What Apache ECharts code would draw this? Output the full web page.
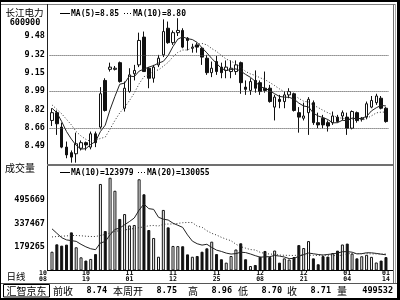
<!DOCTYPE html>
<html><head><meta charset="utf-8">
<script src="https://cdn.jsdelivr.net/npm/echarts@6/dist/echarts.min.js"></script>
<style>html,body{margin:0;padding:0;background:#fff}#c{width:400px;height:300px}</style>
</head><body><div id="c"></div>
<script>
// ---------- data ----------
const stockName = '长江电力';
const stockCode = '600900';
const dates = ['10/08','10/11','10/12','10/13','10/14','10/15','10/18','10/19','10/20','10/21','10/22','10/25','10/26','10/27','10/28','10/29',
  '11/01','11/02','11/03','11/04','11/05','11/08','11/09','11/10','11/11','11/12','11/15','11/16','11/17','11/18','11/19','11/22','11/23','11/24','11/25','11/26','11/29','11/30',
  '12/01','12/02','12/03','12/06','12/07','12/08','12/09','12/10','12/13','12/14','12/15','12/16','12/17','12/20','12/21','12/22','12/23','12/24','12/27','12/28','12/29','12/30','12/31',
  '01/04','01/05','01/06','01/07','01/10','01/11','01/12','01/13','01/14'];
const shownDates = ['10/08','10/19','11/01','11/12','11/25','12/08','12/21','01/04','01/14'];
const opens = [8.72,8.79,8.66,8.48,8.43,8.42,8.47,8.52,8.48,8.60, 8.66,9.08,9.18,9.18,9.24,8.83,8.98,9.14,9.22,9.47, 9.19,9.10,9.22,9.31,9.55,9.42,9.51,9.53,9.46,9.37, 9.40,9.37,9.28,9.15,9.25,9.20,9.17,9.16,9.16,9.24, 9.02,8.99,9.08,9.06,9.01,9.01,8.84,8.91,8.89,8.95, 8.96,8.79,8.74,8.79,8.88,8.70,8.74,8.70,8.70,8.75, 8.76,8.75,8.65,8.79,8.73,8.75,8.84,8.88,8.92,8.83];
const closes = [8.79,8.69,8.48,8.41,8.39,8.51,8.52,8.50,8.60,8.52, 8.96,8.81,9.20,9.19,9.07,9.01,9.13,9.17,9.44,9.16, 9.10,9.20,9.28,9.52,9.42,9.51,9.53,9.38,9.44,9.38, 9.38,9.29,9.15,9.19,9.16,9.15,9.20,9.19,9.22,9.06, 9.00,9.07,9.01,8.98,8.99,8.89,8.93,8.89,8.95,8.98, 8.81,8.75,8.76,8.91,8.70,8.68,8.68,8.67,8.76,8.71, 8.79,8.65,8.80,8.72,8.74,8.87,8.90,8.94,8.83,8.71];
const lows = [8.67,8.59,8.47,8.38,8.34,8.34,8.45,8.45,8.46,8.48, 8.64,8.80,9.16,9.17,9.06,8.80,8.97,9.08,9.20,9.16, 9.01,9.06,9.20,9.29,9.41,9.40,9.48,9.37,9.35,9.33, 9.33,9.22,9.13,9.11,9.13,9.10,9.10,9.10,9.13,8.96, 8.95,8.95,8.97,8.95,8.97,8.88,8.72,8.83,8.83,8.92, 8.80,8.61,8.72,8.59,8.68,8.65,8.65,8.62,8.68,8.70, 8.72,8.59,8.64,8.70,8.71,8.73,8.83,8.86,8.82,8.70];
const highs = [8.83,8.81,8.70,8.53,8.45,8.61,8.54,8.53,8.62,8.62, 9.02,9.10,9.24,9.21,9.25,9.07,9.19,9.22,9.51,9.52, 9.20,9.22,9.31,9.63,9.61,9.53,9.64,9.55,9.47,9.41, 9.42,9.38,9.31,9.25,9.30,9.24,9.26,9.26,9.26,9.25, 9.08,9.10,9.17,9.08,9.16,9.04,8.95,8.95,8.98,9.01, 8.97,8.84,8.88,8.93,8.90,8.79,8.77,8.72,8.80,8.77, 8.81,8.79,8.81,8.80,8.75,8.89,8.94,8.96,8.94,8.84];
const ma5 = [8.83,8.79,8.71,8.62,8.552,8.496,8.462,8.466,8.504,8.530, 8.620,8.678,8.818,8.936,9.046,9.056,9.120,9.114,9.164,9.182, 9.200,9.214,9.236,9.252,9.304,9.386,9.452,9.472,9.456,9.448, 9.422,9.374,9.328,9.278,9.234,9.188,9.170,9.178,9.184,9.164, 9.134,9.108,9.072,9.024,9.010,8.988,8.960,8.936,8.930,8.928, 8.912,8.876,8.850,8.842,8.786,8.760,8.746,8.728,8.698,8.700, 8.722,8.716,8.742,8.734,8.740,8.756,8.806,8.834,8.856,8.850];
const ma10 = [8.86,8.82,8.78,8.73,8.68,8.62,8.58,8.55,8.53,8.541, 8.558,8.570,8.642,8.720,8.788,8.838,8.899,8.966,9.050,9.114, 9.128,9.167,9.175,9.208,9.243,9.293,9.333,9.354,9.354,9.376, 9.404,9.413,9.400,9.367,9.341,9.305,9.272,9.253,9.231,9.199, 9.161,9.139,9.125,9.104,9.087,9.061,9.034,9.004,8.977,8.969, 8.950,8.918,8.893,8.886,8.857,8.836,8.811,8.789,8.770,8.743, 8.741,8.731,8.735,8.716,8.720,8.739,8.761,8.788,8.795,8.795];
const volumes = [145000,195000,186000,193000,276000,175000,107000,85000,96000,129000, 604000,285000,646000,558000,367000,400000,323000,326000,636000,534000, 292000,238000,111000,428000,310000,184000,183000,182000,127000,111000, 116000,145000,168000,213000,129000,94000,71000,116000,160000,202000, 94000,48000,55000,111000,150000,109000,153000,71000,100000,92000, 109000,190000,170000,217000,100000,60000,115000,112000,136000,152310, 194000,200000,132000,100000,114258,124000,110000,72000,85000,108532];
const volMa10 = [300000,270000,240000,225000,220000,215000,195000,178000,165000,158700, 204600,213600,259600,296100,305200,327700,349300,373400,427400,467900, 436700,432000,378500,365500,359800,338200,324200,309800,258900,216600, 199000,189700,195400,173900,155800,146800,135600,129000,132300,141400, 139200,129500,118200,108000,110100,111600,119800,115300,109300,98300, 99800,114000,125500,136100,131100,126200,122400,126500,130100,136131, 144631,145631,141831,130131,131557,137957,137457,133457,128357,123979];
const volMa20 = [245000,248000,250000,252000,255000,255000,253000,250000,248000,248000, 255000,262000,272000,282000,288000,292000,298000,302000,308000,313300, 320650,322800,319050,330800,332500,332950,336750,341600,343150,342250, 317850,310850,286950,269700,257800,242500,229900,219400,195600,179000, 169100,159600,156800,140950,132950,129200,127700,122150,120800,119850, 119500,121750,121850,122050,120600,118900,121100,120900,119700,117200, 122200,129800,133700,133100,131300,132100,129900,130000,129200,130055];
const yTickValues = [8.49, 8.655, 8.82, 8.985, 9.15, 9.315, 9.48];
const yTickLabels = ['8.49','8.66','8.82','8.99','9.15','9.32','9.48'];
const gridLineValues = [8.655, 8.985, 9.315];
const volTickValues = [179265, 337467, 495669];
const priceLegend = ['MA(5)=8.85', 'MA(10)=8.80'];
const volLegend = ['MA(10)=123979', 'MA(20)=130055'];
const panelLabels = ['成交量', '日线'];
const brand = '汇智京东';
const infoLabels = ['前收','本周开','高','低','收','量'];
const infoValues = ['8.74','8.75','8.96','8.70','8.71','499532'];

// ---------- chart ----------
const MONO = '"DejaVu Sans Mono", monospace';
const CJK = '"Noto Sans CJK SC", sans-serif';
const chart = echarts.init(document.getElementById('c'), null, {renderer: 'canvas'});

const hollow = {color: '#fff', borderColor: '#111', borderWidth: 1};
const solid = {color: '#111', borderColor: '#111', borderWidth: 1};

function txt(text, x, y, font, align, extra) {
  return Object.assign({type: 'text', x: x, y: y, z: 50, silent: true,
    style: {text: text, font: font, fill: '#000', align: align, textAlign: align, verticalAlign: 'middle', textVerticalAlign: 'middle'}}, extra || {});
}
function rect(x, y, w, h, c) {
  return {type: 'rect', z: 40, silent: true, shape: {x: x, y: y, width: w, height: h}, style: {fill: c}};
}
function seg(x1, y1, x2, y2, dash) {
  return {type: 'line', z: 50, silent: true, shape: {x1: x1, y1: y1, x2: x2, y2: y2},
    style: {stroke: '#000', lineWidth: 1, lineDash: dash || null}};
}

const LF = 'bold 8px ' + MONO;
const graphics = [
  rect(0, 0, 400, 2, '#000'), rect(0, 0, 1, 300, '#000'), rect(397, 0, 3, 300, '#000'), rect(0, 298, 400, 2, '#000'),
  rect(1, 4, 395, 1, '#808080'),
  rect(393, 4, 1, 279, '#707070'), rect(395, 4, 1, 279, '#a8a8a8'),
  rect(47, 4, 1, 267, '#222'),
  rect(47, 164, 346, 2, '#707070'),
  rect(47, 270, 346, 1, '#000'),
  rect(1, 283, 396, 1, '#555'),
  {type: 'rect', z: 40, silent: true, shape: {x: 3.5, y: 284.5, width: 46, height: 12.5}, style: {fill: null, stroke: '#000', lineWidth: 1}},
  txt(stockName, 24.5, 12, '9.5px ' + CJK, 'center'),
  txt(stockCode, 25, 22.5, 'bold 8.5px ' + MONO, 'center'),
  txt(panelLabels[0], 20, 168.5, '10px ' + CJK, 'center'),
  txt(panelLabels[1], 16, 276.5, '9.5px ' + CJK, 'center'),
  seg(60, 13.5, 70, 13.5), txt(priceLegend[0], 71, 13.5, LF, 'left'),
  seg(124, 13.5, 132, 13.5, [1, 2]), txt(priceLegend[1], 133, 13.5, LF, 'left'),
  seg(60, 172.5, 70, 172.5), txt(volLegend[0], 71, 172.5, LF, 'left'),
  seg(138, 172.5, 146, 172.5, [1, 2]), txt(volLegend[1], 147, 172.5, LF, 'left'),
  txt(brand, 26.5, 291, '10px ' + CJK, 'center')
];
const labelX = [53, 113, 188, 238, 287, 337];
const valueRight = [107, 177, 232, 282, 331, 393];
infoLabels.forEach((l, i) => graphics.push(txt(l, labelX[i], 291, '10px ' + CJK, 'left')));
infoValues.forEach((v, i) => graphics.push(txt(v, valueRight[i], 291, 'bold 8.5px ' + MONO, 'right')));

const gridLeft = 49.58, gridWidth = 338.8;
const option = {
  animation: false,
  backgroundColor: '#fff',
  grid: [
    {left: gridLeft, width: gridWidth, top: 5, height: 160},
    {left: gridLeft, width: gridWidth, top: 165, height: 105}
  ],
  xAxis: [
    {type: 'category', gridIndex: 0, data: dates, boundaryGap: true,
      axisLine: {show: false}, axisTick: {show: false}, axisLabel: {show: false}, splitLine: {show: false}},
    {type: 'category', gridIndex: 1, data: dates, boundaryGap: true,
      axisLine: {show: false}, axisTick: {show: false}, splitLine: {show: false},
      axisLabel: {
        interval: (idx, val) => shownDates.indexOf(val) >= 0,
        margin: 1, lineHeight: 5.6,
        fontFamily: MONO, fontWeight: 'bold', fontSize: 6.5, color: '#000',
        formatter: (val, idx) => {
          const p = val.split('/');
          return idx === 0 ? '{s|' + p[0] + '}\n{s|' + p[1] + '}' : p[0] + '\n' + p[1];
        },
        rich: {s: {padding: [0, 18, 0, 0], fontFamily: MONO, fontWeight: 'bold', fontSize: 6.5, lineHeight: 5.6, color: '#000'}}
      }}
  ],
  yAxis: [
    {type: 'value', gridIndex: 0, min: 8.319, max: 9.759, scale: true,
      axisLine: {show: false}, axisTick: {show: false}, splitLine: {show: false},
      axisLabel: {customValues: yTickValues, margin: 4.6, fontFamily: MONO, fontWeight: 'bold', fontSize: 8.5, color: '#000',
        formatter: v => yTickLabels[yTickValues.indexOf(v)]}},
    {type: 'value', gridIndex: 1, min: 21063, max: 732438, scale: true,
      axisLine: {show: false}, axisTick: {show: false}, splitLine: {show: false},
      axisLabel: {customValues: volTickValues, margin: 4.6, fontFamily: MONO, fontWeight: 'bold', fontSize: 8.5, color: '#000',
        formatter: v => String(v)}}
  ],
  series: [
    {type: 'candlestick', xAxisIndex: 0, yAxisIndex: 0, barWidth: 3,
      data: dates.map((d, i) => [opens[i], closes[i], lows[i], highs[i]]),
      itemStyle: {color: '#fff', color0: '#111', borderColor: '#111', borderColor0: '#111', borderWidth: 1},
      markLine: {silent: true, symbol: ['none', 'none'], label: {show: false}, animation: false,
        lineStyle: {color: '#444', type: [1, 1], width: 1},
        data: gridLineValues.map(v => ({yAxis: v}))}},
    {type: 'line', xAxisIndex: 0, yAxisIndex: 0, data: ma5, symbol: 'none', silent: true,
      lineStyle: {color: '#222', width: 1}},
    {type: 'line', xAxisIndex: 0, yAxisIndex: 0, data: ma10, symbol: 'none', silent: true,
      lineStyle: {color: '#333', width: 1, type: [1, 2]}},
    {type: 'bar', xAxisIndex: 1, yAxisIndex: 1, barWidth: 3, silent: true,
      data: volumes.map((v, i) => ({value: v, itemStyle: closes[i] >= opens[i] ? hollow : solid}))},
    {type: 'line', xAxisIndex: 1, yAxisIndex: 1, data: volMa10, symbol: 'none', silent: true,
      lineStyle: {color: '#222', width: 1}},
    {type: 'line', xAxisIndex: 1, yAxisIndex: 1, data: volMa20, symbol: 'none', silent: true,
      lineStyle: {color: '#333', width: 1, type: [1, 2]}}
  ],
  graphic: {elements: graphics}
};
chart.setOption(option);
</script>
</body></html>
